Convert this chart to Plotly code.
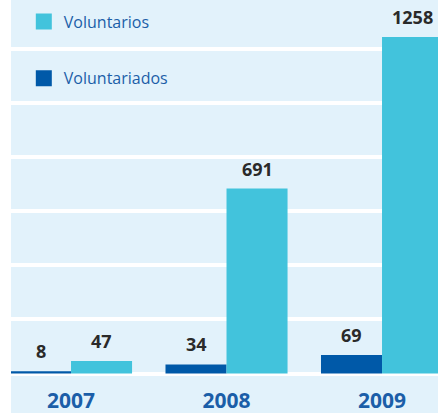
import plotly.graph_objects as go

years = ["2007", "2008", "2009"]
voluntariados = [8, 34, 69]
voluntarios = [47, 691, 1258]

DARK = "#0059a8"
CYAN = "#42c3dc"
BG = "#e2f2fb"
TXT_BLUE = "#1b5ea8"
LBL = "#2a2a2a"
BARGAP = 0.215
FONT = "Open Sans"

xs = list(range(len(years)))

fig = go.Figure()
fig.add_trace(go.Bar(x=xs, y=voluntariados, name="Voluntariados", marker_color=DARK,
                     marker_line_width=0, showlegend=False))
fig.add_trace(go.Bar(x=xs, y=voluntarios, name="Voluntarios", marker_color=CYAN,
                     marker_line_width=0, showlegend=False))

# legend entries
fig.add_trace(go.Scatter(x=[None], y=[None], mode="markers", name="Voluntarios",
                         marker=dict(symbol="square", size=17, color=CYAN),
                         legendgroup="a"))
fig.add_trace(go.Scatter(x=[None], y=[None], mode="markers", name="Voluntariados",
                         marker=dict(symbol="square", size=17, color=DARK),
                         legendgroup="b"))

off = (1 - BARGAP) / 4
for i, v in enumerate(voluntariados):
    fig.add_annotation(x=i - off, y=v, text=f"<b>{v}</b>", showarrow=False,
                       yanchor="bottom", yshift=6, font=dict(size=18, color=LBL, family=FONT))
for i, v in enumerate(voluntarios):
    fig.add_annotation(x=i + off, y=v, text=f"<b>{v}</b>", showarrow=False,
                       yanchor="bottom", yshift=6, font=dict(size=18, color=LBL, family=FONT))

fig.add_shape(type="rect", xref="paper", yref="paper", x0=0, x1=1, y0=-38/375, y1=1,
              fillcolor=BG, line_width=0, layer="below")

fig.update_layout(
    width=438, height=413,
    margin=dict(l=11, r=0, t=0, b=38),
    paper_bgcolor="white",
    plot_bgcolor="rgba(0,0,0,0)",
    barmode="group", bargap=BARGAP, bargroupgap=0,
    font=dict(family=FONT),
    legend=dict(x=0.03, y=0.988, xanchor="left", yanchor="top", bgcolor="rgba(0,0,0,0)",
                font=dict(size=16, color=TXT_BLUE, family=FONT),
                tracegroupgap=33, traceorder="grouped"),
    xaxis=dict(range=[-0.386, 2.36], tickvals=xs, ticktext=[f"<b>{y}</b>" for y in years],
               showgrid=False, zeroline=False, showline=False, ticks="",
               tickfont=dict(size=21, color=TXT_BLUE, family=FONT), ticklabelstandoff=11,
               fixedrange=True),
    yaxis=dict(range=[-5.6, 1396], dtick=202, tick0=0, showticklabels=False,
               showgrid=True, gridcolor="white", gridwidth=4, zeroline=False,
               ticks="", fixedrange=True),
)

fig.write_html("out.html", config={"displayModeBar": False},
               post_script="document.body.style.margin='0';document.body.style.overflow='hidden';")
